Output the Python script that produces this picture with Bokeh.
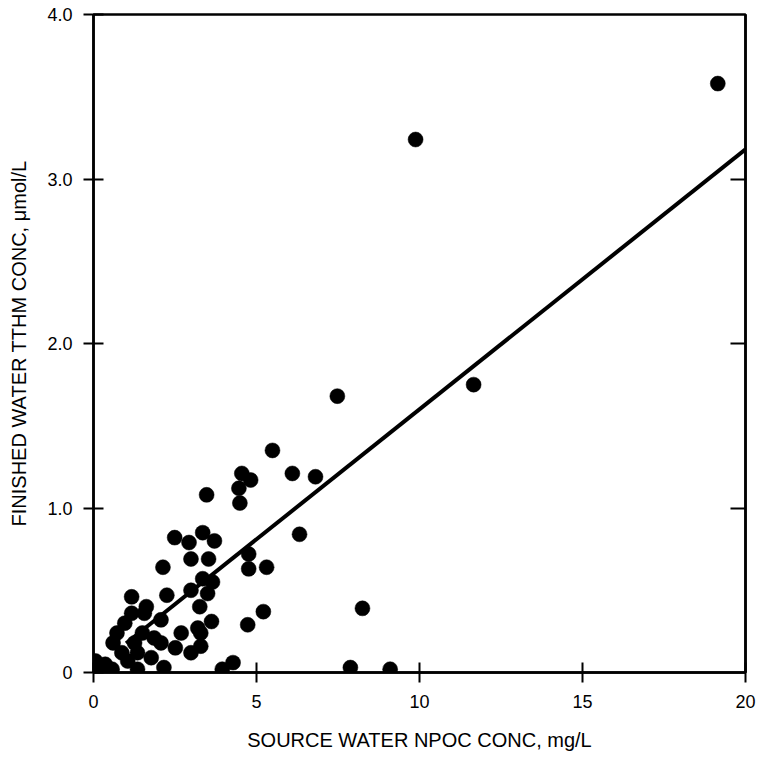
from bokeh.plotting import figure
from bokeh.models import Range1d, LinearAxis, FixedTicker, CustomJSTickFormatter
from bokeh.embed import file_html
from bokeh.resources import INLINE

# Source water NPOC (mg/L) vs finished water TTHM (umol/L)
npoc = [19.15, 9.88, 11.66, 7.48, 5.49, 6.10, 6.81, 6.32, 4.55, 4.82, 4.46, 4.49,
        4.76, 4.76, 5.31, 5.21, 4.73, 4.28, 3.95, 8.25, 7.88, 9.10,
        3.47, 2.49, 2.93, 3.35, 3.71, 2.99, 2.13, 3.53, 3.35, 3.65, 3.50, 2.99,
        2.25, 1.17, 3.26, 3.62, 1.62, 2.69, 3.20, 3.29, 2.99, 2.51, 1.17, 0.96,
        1.56, 0.72, 1.50, 0.60, 1.26, 1.86, 2.07, 0.06, 0.36, 0.87, 1.35, 1.77,
        0.06, 0.57, 1.35, 2.16, 1.05, 3.29, 2.07, 0.20]
tthm = [3.58, 3.24, 1.75, 1.68, 1.35, 1.21, 1.19, 0.84, 1.21, 1.17, 1.12, 1.03,
        0.72, 0.63, 0.64, 0.37, 0.29, 0.06, 0.02, 0.39, 0.03, 0.02,
        1.08, 0.82, 0.79, 0.85, 0.80, 0.69, 0.64, 0.69, 0.57, 0.55, 0.48, 0.50,
        0.47, 0.46, 0.40, 0.31, 0.40, 0.24, 0.27, 0.16, 0.12, 0.15, 0.36, 0.30,
        0.36, 0.24, 0.24, 0.18, 0.18, 0.21, 0.18, 0.07, 0.05, 0.12, 0.12, 0.09,
        0.02, 0.02, 0.02, 0.03, 0.07, 0.24, 0.32, 0.01]

# Regression line
fit_intercept = 0.02
fit_slope = 0.158
fit_x = [1.0, 20.0]
fit_y = [fit_intercept + fit_slope * v for v in fit_x]

x_ticks = [0, 5, 10, 15, 20]
y_ticks = [0, 1, 2, 3, 4]
right_ticks = [1, 2, 3]

FONT = "Liberation Sans"

p = figure(width=760, height=761, output_backend="svg", toolbar_location=None,
           x_range=Range1d(0, 20), y_range=Range1d(0, 4),
           min_border_left=93, min_border_right=15, min_border_top=14, min_border_bottom=89)
p.background_fill_color = "white"
p.border_fill_color = "white"
p.grid.visible = False
p.outline_line_color = "black"
p.outline_line_width = 2.5

p.line(fit_x, fit_y, line_color="black", line_width=4)
p.scatter(npoc, tthm, size=15, fill_color="black", line_color="black", line_width=0.5)

p.xaxis.ticker = FixedTicker(ticks=x_ticks)
p.yaxis.ticker = FixedTicker(ticks=y_ticks)
p.yaxis.formatter = CustomJSTickFormatter(code="return tick == 0 ? '0' : tick.toFixed(1);")
p.xaxis.axis_label = "SOURCE WATER NPOC CONC, mg/L"
p.yaxis.axis_label = "FINISHED WATER TTHM CONC, \u03bcmol/L"

for ax in (p.xaxis[0], p.yaxis[0]):
    ax.axis_line_color = "black"
    ax.axis_line_width = 2.5
    ax.major_tick_line_color = "black"
    ax.major_tick_line_width = 2
    ax.major_tick_in = 10
    ax.major_tick_out = 10
    ax.minor_tick_line_color = None
    ax.major_label_text_font = FONT
    ax.major_label_text_font_size = "18px"
    ax.major_label_text_color = "black"
    ax.axis_label_text_font = FONT
    ax.axis_label_text_font_size = "20px"
    ax.axis_label_text_font_style = "normal"
    ax.axis_label_text_color = "black"

p.xaxis.major_label_standoff = 12
p.xaxis.axis_label_standoff = 18
p.yaxis.major_label_standoff = 11
p.yaxis.axis_label_standoff = 14

right = LinearAxis(ticker=FixedTicker(ticks=right_ticks),
                   formatter=CustomJSTickFormatter(code="return '';"),
                   major_tick_in=15, major_tick_out=0, minor_tick_line_color=None,
                   axis_line_color="black", axis_line_width=2.5, major_tick_line_width=2,
                   major_label_standoff=0)
p.add_layout(right, "right")

out = open("out.html", "w")
out.write(file_html(p, INLINE))
out.close()
